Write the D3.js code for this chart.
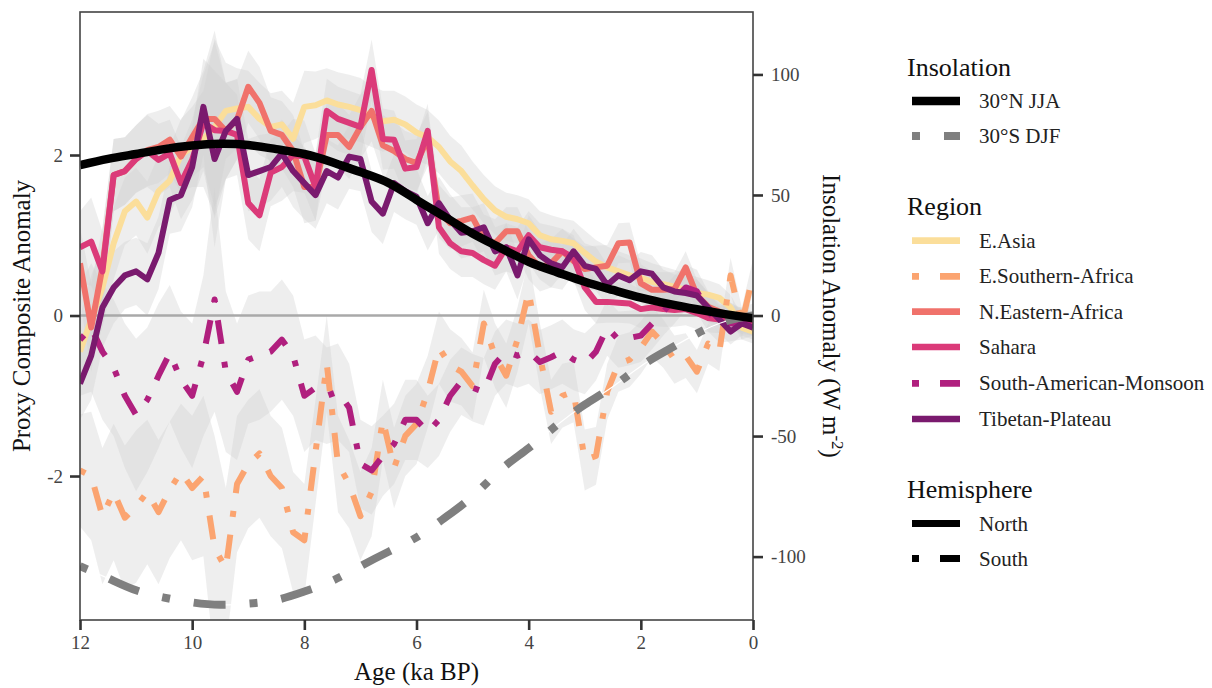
<!DOCTYPE html>
<html>
<head>
<meta charset="utf-8">
<script src="https://cdn.jsdelivr.net/npm/d3@7"></script>
<style>
  body { margin: 0; background: #fff; }
  text { font-family: "Liberation Serif", "Times New Roman", serif; }
</style>
</head>
<body>
<svg width="1212" height="688"></svg>
<script>
// ages (ka BP), 0.2 ka steps
const ages = [12.0, 11.8, 11.6, 11.4, 11.2, 11.0, 10.8, 10.6, 10.4, 10.2,
  10.0, 9.8, 9.6, 9.4, 9.2, 9.0, 8.8, 8.6, 8.4, 8.2,
  8.0, 7.8, 7.6, 7.4, 7.2, 7.0, 6.8, 6.6, 6.4, 6.2,
  6.0, 5.8, 5.6, 5.4, 5.2, 5.0, 4.8, 4.6, 4.4, 4.2,
  4.0, 3.8, 3.6, 3.4, 3.2, 3.0, 2.8, 2.6, 2.4, 2.2,
  2.0, 1.8, 1.6, 1.4, 1.2, 1.0, 0.8, 0.6, 0.4, 0.2, 0.0];

const eAsia = [-0.45, -0.05, 0.35, 0.9, 1.3, 1.42, 1.22, 1.55, 1.68, 2.0,
  2.1, 2.2, 2.35, 2.55, 2.58, 2.6, 2.45, 2.35, 2.38, 2.2,
  2.6, 2.62, 2.68, 2.63, 2.6, 2.56, 2.48, 2.42, 2.44, 2.38,
  2.28, 2.22, 2.1, 1.92, 1.8, 1.62, 1.45, 1.31, 1.23, 1.2,
  1.15, 1.0, 0.95, 0.93, 0.9, 0.78, 0.67, 0.6, 0.55, 0.5,
  0.47, 0.42, 0.39, 0.36, 0.32, 0.28, 0.26, 0.22, 0.1, -0.15, -0.2];

const eSouthernAfrica = [-1.93, -2.0, -2.5, -2.2, -2.52, -2.38, -2.2, -2.45, -2.17, -1.95,
  -2.15, -2.0, -2.9, -3.15, -2.1, -1.85, -1.72, -2.0, -2.15, -2.7,
  -2.8, -1.7, -0.6, -1.85, -2.1, -2.5, -2.2, -1.3, -1.9, -1.5,
  -1.35, -0.95, -0.4, -0.62, -0.7, -0.88, -0.1, -0.5, -0.75, -0.3,
  0.3, -0.5, -1.2, -1.0, -0.95, -1.8, -1.75, -0.95, -0.6, -0.55,
  -0.4, -0.2, -0.35, -0.55, -0.5, -0.7, -0.35, -0.45, 0.5, -0.1, 0.5];

const nEasternAfrica = [0.65, -0.15, 0.6, 1.75, 1.8, 1.95, 2.06, 2.1, 2.19, 1.98,
  2.22, 2.45, 2.45, 2.3, 2.44, 2.85, 2.65, 2.3, 2.25, 2.05,
  1.6, 1.6, 2.25, 2.25, 2.1, 2.35, 2.55, 2.12, 2.05, 1.95,
  1.9, 2.2, 1.3, 1.15, 1.18, 1.22, 0.96, 0.9, 1.05, 1.05,
  0.75, 0.6, 0.65, 0.8, 0.68, 0.58, 0.6, 0.62, 0.9, 0.91,
  0.4, 0.32, 0.32, 0.33, 0.6, 0.25, 0.11, 0.05, 0.0, -0.06, -0.1];

const sahara = [0.85, 0.92, 0.55, 1.75, 1.8, 1.95, 2.05, 1.94, 2.02, 1.65,
  1.94, 2.4, 2.31, 2.3, 2.25, 1.4, 1.25, 1.78, 1.85, 2.0,
  1.98, 1.6, 2.55, 2.45, 2.4, 2.35, 3.06, 2.2, 2.19, 1.83,
  1.85, 2.3, 1.1, 0.9, 0.8, 0.78, 0.69, 0.62, 0.85, 0.8,
  1.0, 0.85, 0.82, 0.8, 0.72, 0.35, 0.17, 0.17, 0.16, 0.15,
  0.08, 0.1, 0.08, 0.07, 0.08, 0.03, -0.03, -0.05, 0.0, -0.08, -0.1];

const southAmericanMonsoon = [-0.3, -0.15, -0.45, -0.65, -1.0, -1.24, -1.05, -0.75, -0.47, -0.8,
  -1.0, -0.5, 0.2, -0.7, -0.95, -0.55, -0.5, -0.45, -0.3, -0.5,
  -1.0, -0.9, -1.0, -0.95, -1.15, -1.85, -1.93, -1.75, -1.6, -1.3,
  -1.3, -1.45, -1.3, -1.0, -0.82, -0.9, -0.95, -0.6, -0.45, -0.5,
  -0.45, -0.58, -0.52, -0.45, -0.55, -0.6, -0.45, -0.15, -0.3, -0.28,
  -0.25, -0.1, 0.05, 0.2, 0.35, 0.3, 0.05, -0.1, -0.1, -0.1, -0.05];

const tibetanPlateau = [-0.85, -0.5, 0.1, 0.35, 0.5, 0.55, 0.45, 0.78, 1.44, 1.5,
  1.85, 2.6, 1.95, 2.3, 2.45, 1.75, 1.8, 1.85, 2.02, 1.8,
  1.65, 1.5, 1.8, 1.72, 1.98, 1.95, 1.42, 1.27, 1.65, 1.55,
  1.48, 1.15, 1.4, 1.19, 1.03, 1.05, 1.1, 0.8, 0.85, 0.5,
  0.95, 0.75, 0.65, 0.6, 0.8, 0.62, 0.58, 0.38, 0.5, 0.44,
  0.55, 0.52, 0.35, 0.3, 0.28, 0.25, 0.1, -0.05, -0.2, -0.1, -0.15];

// half width of the grey uncertainty band (northern / southern series)
const spreadNorth = [0.45, 0.55, 0.5, 0.45, 0.42, 0.42, 0.45, 0.45, 0.42, 0.45,
  0.5, 0.6, 1.1, 0.6, 0.5, 0.45, 0.45, 0.42, 0.42, 0.45,
  0.45, 0.42, 0.4, 0.4, 0.4, 0.4, 0.38, 0.38, 0.36, 0.35,
  0.35, 0.34, 0.33, 0.32, 0.32, 0.3, 0.3, 0.3, 0.3, 0.3,
  0.3, 0.3, 0.3, 0.28, 0.28, 0.28, 0.27, 0.26, 0.25, 0.25,
  0.24, 0.23, 0.22, 0.21, 0.2, 0.2, 0.18, 0.17, 0.16, 0.15, 0.15];
const spreadSouth = [0.7, 0.8, 0.85, 0.85, 0.9, 0.95, 0.9, 0.9, 0.85, 0.85,
  0.9, 1.0, 1.4, 1.0, 0.85, 0.8, 0.8, 0.75, 0.75, 0.75,
  0.7, 0.65, 0.6, 0.6, 0.55, 0.55, 0.55, 0.5, 0.5, 0.5,
  0.5, 0.45, 0.45, 0.45, 0.42, 0.42, 0.42, 0.4, 0.4, 0.4,
  0.4, 0.4, 0.4, 0.4, 0.38, 0.38, 0.36, 0.35, 0.35, 0.34,
  0.33, 0.32, 0.3, 0.3, 0.28, 0.27, 0.25, 0.24, 0.22, 0.2, 0.2];

// insolation anomalies (W m-2), 0.5 ka steps
const insolAges = [12, 11.5, 11, 10.5, 10, 9.5, 9, 8.5, 8, 7.5, 7, 6.5, 6,
  5.5, 5, 4.5, 4, 3.5, 3, 2.5, 2, 1.5, 1, 0.5, 0];
const insol30N_JJA = [62.4, 65, 67, 69, 70.5, 71.2, 70.7, 69, 67, 63.6, 59.5, 55, 48,
  41, 34, 28, 22.3, 18, 14, 10.6, 7.4, 4.8, 2.6, 0.6, -1.2];
const insol30S_DJF = [-104, -109, -114, -117, -119, -120, -119.5, -118, -114.5, -110, -104, -98, -92,
  -84, -75, -64, -55, -45.5, -37, -29.5, -21, -14, -7.5, -2.5, 0];

const regionNames = ["E.Asia", "E.Southern-Africa", "N.Eastern-Africa", "Sahara",
  "South-American-Monsoon", "Tibetan-Plateau"];
const regionValues = [eAsia, eSouthernAfrica, nEasternAfrica, sahara, southAmericanMonsoon, tibetanPlateau];
const regionColors = ["#fbde9a", "#fba470", "#f0726b", "#db3a79", "#b01f7e", "#7a1a6e"];
const regionSouth = [false, true, false, false, true, false];

const xTicks = [12, 10, 8, 6, 4, 2, 0];
const yTicks = [-2, 0, 2];
const yInsTicks = [-100, -50, 0, 50, 100];

const svg = d3.select("svg");
const pLeft = 80, pRight = 753, pTop = 12, pBottom = 620;

const x = d3.scaleLinear().domain([12, 0]).range([pLeft, pRight]);
const y = d3.scaleLinear().domain([-3.794, 3.782]).range([pBottom, pTop]);
const yIns = d3.scaleLinear().domain([-126.3, 125.9]).range([pBottom, pTop]);

const regionDash = "6,18,24,18";
const insolDash = "8,24,32,24";

svg.append("clipPath").attr("id", "clip")
  .append("rect").attr("x", pLeft).attr("y", pTop)
  .attr("width", pRight - pLeft).attr("height", pBottom - pTop);

const plot = svg.append("g").attr("clip-path", "url(#clip)");

// bandes grises
plot.selectAll("path.band")
  .data(regionValues)
  .enter()
  .append("path")
  .attr("class", "band")
  .attr("d", (vals, k) => {
    const sp = regionSouth[k] ? spreadSouth : spreadNorth;
    return d3.area()
      .x((d, i) => x(ages[i]))
      .y0((d, i) => y(d - sp[i]))
      .y1((d, i) => y(d + sp[i]))(vals);
  })
  .attr("fill", "#cfcfcf")
  .attr("fill-opacity", 0.36);

// ligne zero
plot.append("line")
  .attr("x1", pLeft).attr("x2", pRight)
  .attr("y1", y(0)).attr("y2", y(0))
  .attr("stroke", "#a9a9a9")
  .attr("stroke-width", 2.5);

// courbes regionales
const line = d3.line()
  .x((d, i) => x(ages[i]))
  .y(d => y(d));

plot.selectAll("path.region")
  .data(regionValues)
  .enter()
  .append("path")
  .attr("class", "region")
  .attr("d", line)
  .attr("fill", "none")
  .attr("stroke", (d, i) => regionColors[i])
  .attr("stroke-width", 6)
  .attr("stroke-linejoin", "round")
  .attr("stroke-dasharray", (d, i) => regionSouth[i] ? regionDash : null);

// insolation
const insLine = d3.line()
  .x((d, i) => x(insolAges[i]))
  .y(d => yIns(d))
  .curve(d3.curveNatural);

plot.append("path")
  .attr("d", insLine(insol30S_DJF))
  .attr("fill", "none")
  .attr("stroke", "#fff")
  .attr("stroke-width", 1.2);

plot.append("path")
  .attr("d", insLine(insol30S_DJF))
  .attr("fill", "none")
  .attr("stroke", "#7f7f7f")
  .attr("stroke-width", 8)
  .attr("stroke-dasharray", insolDash);

plot.append("path")
  .attr("d", insLine(insol30N_JJA))
  .attr("fill", "none")
  .attr("stroke", "#000")
  .attr("stroke-width", 8.5);

// cadre
svg.append("rect")
  .attr("x", pLeft).attr("y", pTop)
  .attr("width", pRight - pLeft).attr("height", pBottom - pTop)
  .attr("fill", "none")
  .attr("stroke", "#444")
  .attr("stroke-width", 1.6);

// axes
function styleAxis(g) {
  g.select(".domain").remove();
  g.selectAll(".tick line").attr("stroke", "#333").attr("stroke-width", 2.6);
  g.selectAll(".tick text")
    .attr("fill", "#444")
    .style("font-size", "19px")
    .style("font-family", "'Liberation Serif', serif");
}

svg.append("g")
  .attr("transform", `translate(${pLeft},0)`)
  .call(d3.axisLeft(y).tickValues(yTicks).tickSize(10).tickPadding(7).tickFormat(d => d))
  .call(styleAxis);

svg.append("g")
  .attr("transform", `translate(${pRight},0)`)
  .call(d3.axisRight(yIns).tickValues(yInsTicks).tickSize(10).tickPadding(8).tickFormat(d => d))
  .call(styleAxis);

svg.append("g")
  .attr("transform", `translate(0,${pBottom})`)
  .call(d3.axisBottom(x).tickValues(xTicks).tickSize(10).tickPadding(6).tickFormat(d => d))
  .call(styleAxis);

// titres des axes
svg.append("text")
  .attr("x", (pLeft + pRight) / 2)
  .attr("y", 680)
  .attr("text-anchor", "middle")
  .attr("font-size", "25px")
  .attr("fill", "#111")
  .text("Age (ka BP)");

svg.append("text")
  .attr("transform", `translate(30,${(pTop + pBottom) / 2}) rotate(-90)`)
  .attr("text-anchor", "middle")
  .attr("font-size", "25px")
  .attr("fill", "#111")
  .text("Proxy Composite Anomaly");

const rTitle = svg.append("text")
  .attr("transform", `translate(823,${(pTop + pBottom) / 2}) rotate(90)`)
  .attr("text-anchor", "middle")
  .attr("font-size", "25px")
  .attr("fill", "#111");
rTitle.append("tspan").text("Insolation Anomaly (W m");
rTitle.append("tspan").attr("font-size", "17px").attr("dy", -9).text("-2");
rTitle.append("tspan").attr("dy", 9).text(")");

// legende
const keyX1 = 912, keyX2 = 960, labelX = 979, titleX = 907;

svg.append("clipPath").attr("id", "keyclip")
  .append("rect").attr("x", keyX1).attr("y", 0).attr("width", keyX2 - keyX1).attr("height", 688);

const legendGroups = [
  { title: "Insolation", titleY: 76, items: [
    { label: "30°N JJA", y: 101, color: "#000", dash: null, w: 8.5 },
    { label: "30°S DJF", y: 136, color: "#7f7f7f", dash: "8,24,32,24", w: 8 }
  ]},
  { title: "Region", titleY: 215, items: regionNames.map((n, i) => ({
    label: n, y: [240.7, 276.3, 311.7, 347, 383.3, 419][i], color: regionColors[i],
    dash: regionSouth[i] ? "7,21,28,21" : null, w: 6.7
  }))},
  { title: "Hemisphere", titleY: 498, items: [
    { label: "North", y: 523.5, color: "#000", dash: null, w: 7 },
    { label: "South", y: 558.5, color: "#000", dash: "7,21,28,21", w: 7 }
  ]}
];

legendGroups.forEach(grp => {
  svg.append("text")
    .attr("x", titleX).attr("y", grp.titleY)
    .attr("font-size", "26px")
    .attr("fill", "#111")
    .text(grp.title);

  grp.items.forEach(it => {
    svg.append("line")
      .attr("x1", keyX1).attr("x2", keyX2 + 20)
      .attr("y1", it.y).attr("y2", it.y)
      .attr("clip-path", "url(#keyclip)")
      .attr("stroke", it.color)
      .attr("stroke-width", it.w)
      .attr("stroke-dasharray", it.dash);
    svg.append("text")
      .attr("x", labelX).attr("y", it.y + 7)
      .attr("font-size", "21px")
      .attr("fill", "#222")
      .text(it.label);
  });
});
</script>
</body>
</html>
